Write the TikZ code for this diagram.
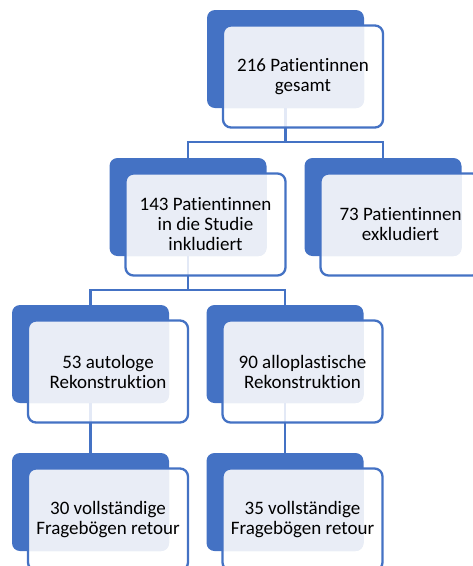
\documentclass[tikz,border=0pt]{standalone}
\usepackage{fontspec}
\setmainfont{Carlito}[Ligatures={NoCommon,NoContextual}]
\definecolor{hb}{HTML}{4472C4}
\definecolor{hl}{HTML}{E9EDF6}
\tikzset{
  backbox/.style={fill=hb, rounded corners=8pt, minimum width=157pt, minimum height=98pt, inner sep=0pt, outer sep=0pt},
  frontfill/.style={fill=white, fill opacity=0.85, rounded corners=8pt, minimum width=160pt, minimum height=102pt, inner sep=0pt, outer sep=0pt},
  frontbox/.style={draw=hb, line width=2.3pt, rounded corners=8pt, minimum width=160pt, minimum height=102pt, inner sep=0pt, align=center, font=\fontsize{19}{20}\selectfont, text=black},
  conn/.style={draw=hb, line width=2.3pt},
}
\newcommand\backunit[3]{\node[backbox] (b#1) at (#2,#3) {};}
\newcommand\frontunit[2]{%
  \node[frontfill] (g#1) at ([shift={(17.5,17.5)}]b#1.center) {};
  \begin{scope}
    \clip[rounded corners=8pt] (b#1.south west) rectangle (b#1.north east);
    \fill[hl, rounded corners=8pt] (g#1.south west) rectangle (g#1.north east);
  \end{scope}
  \node[frontbox] (f#1) at (g#1.center) {#2};
}
\begin{document}
\begin{tikzpicture}[x=1pt, y=-1pt]
\useasboundingbox (0,0) rectangle (473,566);
\clip (0,0) rectangle (473,566);
% back boxes
\backunit{1}{285.5}{59}
\backunit{2}{188}{207}
\backunit{3}{383}{207}
\backunit{4}{90.5}{354}
\backunit{5}{285}{354}
\backunit{6}{90.5}{502}
\backunit{7}{285}{502}
% connectors
\draw[conn] (b1.south) -- ++(0,34) coordinate (h1) -| (b2.north);
\draw[conn] (h1) -| (b3.north);
\draw[conn] (b2.south) -- ++(0,34) coordinate (h2) -| (b4.north);
\draw[conn] (h2) -| (b5.north);
\draw[conn] (b4.south) -- (b6.north);
\draw[conn] (b5.south) -- (b7.north);
% front boxes
\frontunit{1}{216 Patientinnen\\gesamt}
\frontunit{2}{143 Patientinnen\\in die Studie\\inkludiert}
\frontunit{3}{73 Patientinnen\\exkludiert}
\frontunit{4}{53 autologe\\Rekonstruktion}
\frontunit{5}{90 alloplastische\\Rekonstruktion}
\frontunit{6}{30 vollständige\\Fragebögen retour}
\frontunit{7}{35 vollständige\\Fragebögen retour}
\end{tikzpicture}
\end{document}
